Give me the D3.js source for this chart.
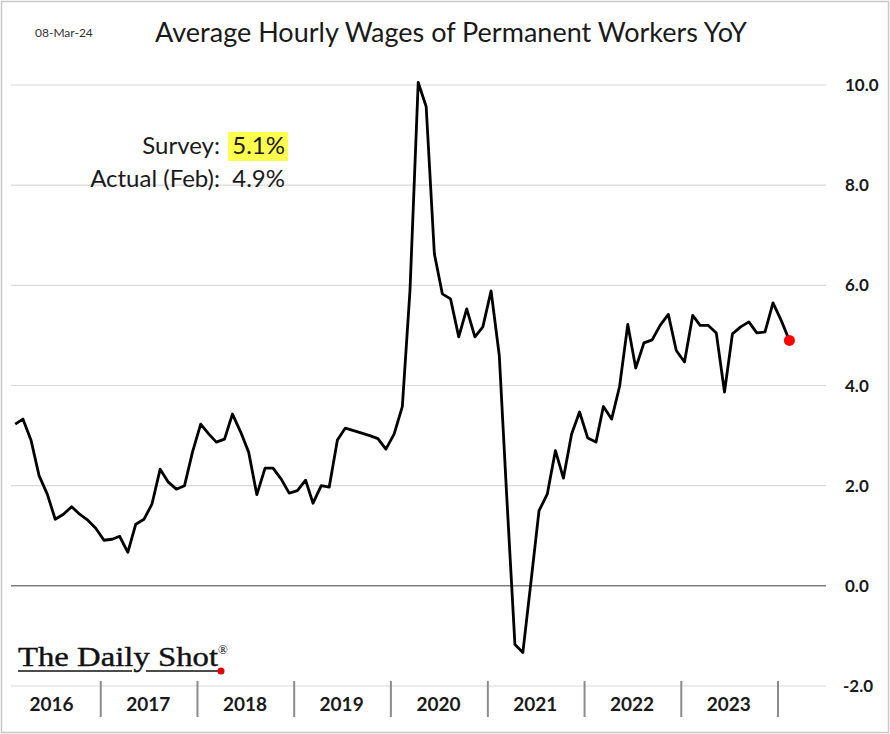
<!DOCTYPE html>
<html><head><meta charset="utf-8">
<script src="https://cdn.jsdelivr.net/npm/d3@7"></script>
<style>body{margin:0;background:#fff}svg{display:block}</style>
</head><body>
<svg id="c" width="890" height="734"></svg>
<script>
const startMonth = "2016-02";
const values = [
3.23,3.33,2.9,2.2,1.83,1.33,1.43,1.58,1.43,1.31,1.15,
0.91,0.93,0.99,0.67,1.23,1.33,1.63,2.33,2.07,1.93,2.0,2.67,
3.23,3.03,2.87,2.93,3.43,3.07,2.67,1.82,2.35,2.35,2.13,1.85,
1.9,2.11,1.65,2.0,1.97,2.91,3.15,3.1,3.05,3.0,2.94,2.73,
3.03,3.58,5.9,10.05,9.57,6.63,5.83,5.73,4.97,5.53,4.97,5.17,
5.89,4.6,1.8,-1.17,-1.33,0.1,1.5,1.83,2.7,2.15,3.03,3.47,
2.95,2.87,3.58,3.33,3.98,5.22,4.35,4.85,4.91,5.2,5.42,4.7,
4.47,5.4,5.2,5.2,5.05,3.87,5.03,5.17,5.27,5.05,5.07,5.65,
5.3,4.9
];
const yTicks = [-2,0,2,4,6,8,10];
const yearLabels = ["2016","2017","2018","2019","2020","2021","2022","2023"];
const title = "Average Hourly Wages of Permanent Workers YoY";
const dateStamp = "08-Mar-24";
const surveyLabel = "Survey:", surveyValue = "5.1%";
const actualLabel = "Actual (Feb):", actualValue = "4.9%";

const parse = d3.timeParse("%Y-%m");
const m0 = parse(startMonth);
const data = values.map((v,i)=>({date:new Date(m0.getFullYear(), m0.getMonth()+i, 15), v}));

const svg = d3.select("#c");
const font = "Lato, 'Open Sans', sans-serif";

// frame
svg.append("rect").attr("x",1.5).attr("y",1.5).attr("width",887).attr("height",731)
  .attr("fill","#fff").attr("stroke","#c8c8c8").attr("stroke-width",1.5);

const x = d3.scaleTime().domain([new Date(2016,0,1), new Date(2024,6,1)]).range([3.3, 825.7]);
const y = d3.scaleLinear().domain([-2,10]).range([686,85]);
const gx0 = 11, gx1 = 826;

// gridlines
svg.append("g").selectAll("line").data(yTicks).join("line")
  .attr("x1",gx0).attr("x2",gx1).attr("y1",d=>y(d)).attr("y2",d=>y(d))
  .attr("stroke",d=>d===0?"#7f7f7f":"#d9d9d9").attr("stroke-width",d=>d===0?1.5:1.2);

// y labels
const fmt = d3.formatLocale({decimal:".",thousands:",",grouping:[3],currency:["",""],minus:"-"}).format(".1f");
svg.append("g").selectAll("text").data(yTicks).join("text")
  .attr("x",d=>d<0?843:845).attr("y",d=>y(d)+6).text(fmt)
  .attr("font-family",font).attr("font-weight","bold").attr("font-size",17).attr("fill","#1a1a1a");

// x axis separators
const yearStarts = d3.range(2017,2025).map(yr=>new Date(yr,0,1));
const xAxis = d3.axisBottom(x).tickValues(yearStarts).tickSize(36).tickFormat("");
const gxa = svg.append("g").attr("transform","translate(0,681)").call(xAxis);
gxa.select(".domain").remove();
gxa.selectAll(".tick line").attr("stroke","#8c8c8c").attr("stroke-width",2);

// year labels
svg.append("g").selectAll("text").data(yearLabels).join("text")
  .attr("x",d=>x(new Date(+d,6,1))).attr("y",711).attr("text-anchor","middle").text(d=>d)
  .attr("font-family",font).attr("font-weight","bold").attr("font-size",19).attr("fill","#1a1a1a");

// line
const line = d3.line().x(d=>x(d.date)).y(d=>y(d.v));
svg.append("path").datum(data).attr("d",line).attr("fill","none")
  .attr("stroke","#000").attr("stroke-width",2.8).attr("stroke-linejoin","round");
const last = data[data.length-1];
svg.append("circle").attr("cx",x(last.date)).attr("cy",y(last.v)).attr("r",5.5).attr("fill","#ff0000");

// title
svg.append("text").attr("x",451).attr("y",42).attr("text-anchor","middle").text(title)
  .attr("font-family",font).attr("font-size",27).attr("fill","#1a1a1a");
svg.append("text").attr("x",35).attr("y",37).text(dateStamp)
  .attr("font-family",font).attr("font-size",12).attr("fill","#333");

// annotation
svg.append("rect").attr("x",228).attr("y",132).attr("width",60).attr("height",29).attr("fill","#ffff4d");
const ann = [[surveyLabel,surveyValue,154],[actualLabel,actualValue,187]];
ann.forEach(([l,v,yy])=>{
  svg.append("text").attr("x",220).attr("y",yy).attr("text-anchor","end").text(l)
    .attr("font-family",font).attr("font-size",24).attr("fill","#1a1a1a");
  svg.append("text").attr("x",285).attr("y",yy).attr("text-anchor","end").text(v)
    .attr("font-family",font).attr("font-size",24).attr("fill","#1a1a1a");
});

// logo
svg.append("text").attr("x",18).attr("y",666).text("The Daily Shot")
  .attr("font-family","'Liberation Serif', 'DejaVu Serif', serif").attr("font-size",28).attr("fill","#111")
  .attr("stroke","#111").attr("stroke-width",0.4)
  .attr("textLength",200).attr("lengthAdjust","spacingAndGlyphs");
svg.append("text").attr("x",218).attr("y",654).text("®")
  .attr("font-family","'Liberation Serif', serif").attr("font-size",13).attr("fill","#111");
svg.append("line").attr("x1",18).attr("x2",132).attr("y1",671).attr("y2",671).attr("stroke","#111").attr("stroke-width",1.5);
svg.append("line").attr("x1",146).attr("x2",218).attr("y1",671).attr("y2",671).attr("stroke","#111").attr("stroke-width",1.5);
svg.append("circle").attr("cx",221).attr("cy",671).attr("r",3.5).attr("fill","#e00000");
</script>
</body></html>
